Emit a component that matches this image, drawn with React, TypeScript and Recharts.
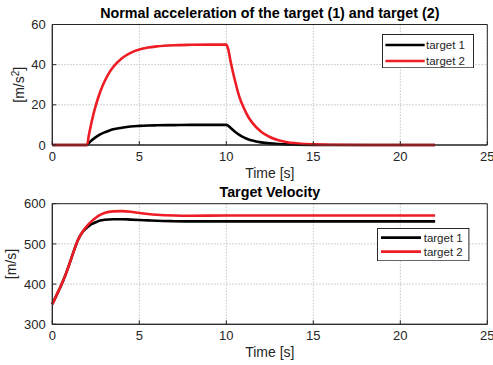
import React from 'react';
import { LineChart, Line, XAxis, YAxis, CartesianGrid, Legend, Label, ReferenceArea } from 'recharts';

const AXIS = '#262626';
const GRID = '#c4c4c4';
const BLACK = '#000000';
const RED = '#ee1c25';
const FONT = '"Liberation Sans", Arial, Helvetica, sans-serif';

// ---- data ----
const timeAcc = [0, 2, 2.1, 2.25, 2.5, 2.75, 3, 3.25, 3.5, 4, 4.5, 5, 5.5, 6, 7, 8, 9, 10, 10.1, 10.25, 10.5, 10.75, 11, 11.25, 11.5, 12, 12.5, 13, 13.5, 14, 15, 16, 18, 20, 22];
const accTarget1 = [0, 0, 1.0, 2.2, 3.9, 5.3, 6.3, 7.1, 7.8, 8.6, 9.2, 9.5, 9.7, 9.8, 9.9, 10, 10, 10, 9.7, 8.5, 6.6, 5.0, 3.8, 2.9, 2.2, 1.3, 0.8, 0.5, 0.3, 0.2, 0.05, 0, 0, 0, 0];
const accTarget2 = [0, 0, 4.8, 11.1, 19.7, 26.4, 31.6, 35.7, 38.8, 43.2, 45.9, 47.5, 48.5, 49.1, 49.7, 49.9, 50, 50, 48, 41.5, 32, 24, 18.5, 14.2, 11, 6.6, 4, 2.4, 1.4, 0.9, 0.3, 0.1, 0, 0, 0];

const timeVel = [0, 0.25, 0.5, 0.75, 1, 1.25, 1.5, 1.75, 2, 2.25, 2.5, 2.75, 3, 3.5, 4, 4.5, 5, 5.5, 6, 7, 8, 10, 15, 20, 22];
const velTarget1 = [350, 373, 396, 422, 452, 484, 512, 530, 541, 549, 554, 558, 560, 561.5, 561.5, 560.5, 559.5, 558.5, 557.5, 556.5, 556, 556, 556, 556, 556];
const velTarget2 = [350, 373, 396, 422, 452, 484, 512, 531, 545, 556, 565, 572, 577, 581, 581.5, 580, 577, 574.5, 572.5, 570.5, 570, 570.5, 570.5, 570.5, 570.5];

const xTicks = [0, 5, 10, 15, 20, 25];
const accTicks = [0, 20, 40, 60];
const velTicks = [300, 400, 500, 600];
const seriesNames = ['target 1', 'target 2'];
const titleAcc = 'Normal acceleration of the target (1) and target (2)';
const titleVel = 'Target Velocity';
const xLabel = 'Time [s]';

const accData = timeAcc.map((t, i) => ({ t, a: accTarget1[i], b: accTarget2[i] }));
const velData = timeVel.map((t, i) => ({ t, a: velTarget1[i], b: velTarget2[i] }));

type Box = { left: number; top: number; w: number; h: number; lx1: number; lx2: number; tx: number; rows: number[] };

const makeLegend = (box: Box) => (props: any) => {
  const payload = props.payload || [];
  return (
    <svg width={box.w} height={box.h} style={{ display: 'block' }}>
      <rect x={0.5} y={0.5} width={box.w - 1} height={box.h - 1} fill="#fff" stroke={AXIS} strokeWidth={1} />
      {payload.map((p: any, i: number) => (
        <g key={i}>
          <line x1={box.lx1} x2={box.lx2} y1={box.rows[i]} y2={box.rows[i]} stroke={p.color} strokeWidth={2.6} />
          <text x={box.tx} y={box.rows[i]} dy="0.36em" fontSize={11.5} fill={AXIS} fontFamily={FONT}>{p.value}</text>
        </g>
      ))}
    </svg>
  );
};

type PanelProps = {
  data: any[];
  height: number;
  top: number;
  plotTop: number;
  plotBottom: number;
  yDomain: [number, number];
  yTicks: number[];
  title: string;
  titleBaseline: number;
  xLabelOffset: number;
  yLabelX: number;
  superscript?: string;
  yLabelMain: string;
  legend: Box;
};

const PLOT_LEFT = 52.3;
const PLOT_RIGHT = 487.3;
const W = 493;
const YAXIS_W = 50;
const XAXIS_H = 40;

function Panel(p: PanelProps) {
  const margin = {
    top: p.plotTop - 1,
    left: PLOT_LEFT - YAXIS_W,
    right: W - PLOT_RIGHT - 1,
    bottom: p.height - p.plotBottom - XAXIS_H,
  };
  const cy = (p.plotTop + p.plotBottom) / 2;
  const yLabel = () => (
    <text
      x={p.yLabelX}
      y={cy}
      transform={`rotate(-90, ${p.yLabelX}, ${cy})`}
      textAnchor="middle"
      fontSize={14}
      fill={AXIS}
      fontFamily={FONT}
    >
      {p.superscript ? (
        <>
          {p.yLabelMain}
          <tspan dy={-5} fontSize={10}>{p.superscript}</tspan>
          <tspan dy={5}>]</tspan>
        </>
      ) : (
        p.yLabelMain + ']'
      )}
    </text>
  );
  return (
    <div style={{ position: 'absolute', left: 0, top: p.top }}>
      <LineChart width={W} height={p.height} data={p.data} margin={margin}>
        <CartesianGrid stroke={GRID} strokeDasharray="1.5 1.5" />
        <XAxis
          dataKey="t"
          type="number"
          domain={[0, 25]}
          ticks={xTicks}
          height={XAXIS_H}
          tickSize={-4}
          tickMargin={10.7}
          stroke={AXIS}
          axisLine={{ stroke: AXIS }}
          tickLine={{ stroke: AXIS }}
          tick={{ fill: AXIS, fontSize: 13, fontFamily: FONT }}
          interval={0}
        >
          <Label value={xLabel} position="insideBottom" offset={p.xLabelOffset} fontSize={14} fill={AXIS} fontFamily={FONT} />
        </XAxis>
        <XAxis
          xAxisId="top"
          orientation="top"
          type="number"
          domain={[0, 25]}
          ticks={xTicks}
          height={1}
          tickSize={-4}
          tick={false}
          axisLine={false}
          tickLine={{ stroke: AXIS }}
          interval={0}
        />
        <YAxis
          type="number"
          domain={p.yDomain}
          ticks={p.yTicks}
          width={YAXIS_W}
          tickSize={-4}
          tickMargin={10.6}
          axisLine={{ stroke: AXIS }}
          tickLine={{ stroke: AXIS }}
          tick={{ fill: AXIS, fontSize: 13, fontFamily: FONT }}
          interval={0}
          label={yLabel}
        />
        <YAxis
          yAxisId="right"
          orientation="right"
          type="number"
          domain={p.yDomain}
          ticks={p.yTicks}
          width={1}
          tickSize={-4}
          tick={false}
          axisLine={false}
          tickLine={{ stroke: AXIS }}
          interval={0}
        />
        <ReferenceArea
          x1={0}
          x2={25}
          y1={p.yDomain[0]}
          y2={p.yDomain[1]}
          fill="none"
          fillOpacity={0}
          stroke={AXIS}
          strokeWidth={1}
          ifOverflow="extendDomain"
        />
        <Legend
          layout="vertical"
          align="center"
          verticalAlign="middle"
          wrapperStyle={{ left: p.legend.left, top: p.legend.top, width: p.legend.w, height: p.legend.h }}
          content={makeLegend(p.legend)}
        />
        <Line dataKey="a" name={seriesNames[0]} stroke={BLACK} strokeWidth={2.6} dot={false} type="monotone" isAnimationActive={false} />
        <Line dataKey="b" name={seriesNames[1]} stroke={RED} strokeWidth={2.6} dot={false} type="monotone" isAnimationActive={false} />
      </LineChart>
      <svg width={W} height={30} style={{ position: 'absolute', left: 0, top: 0, pointerEvents: 'none' }}>
        <text
          x={(PLOT_LEFT + PLOT_RIGHT) / 2}
          y={p.titleBaseline}
          textAnchor="middle"
          fontSize={14.3}
          fontWeight="bold"
          fill="#000"
          fontFamily={FONT}
        >
          {p.title}
        </text>
      </svg>
    </div>
  );
}

export default function App() {
  return (
    <div style={{ position: 'absolute', left: 0, top: 0, width: 493, height: 365, background: '#fff', fontFamily: FONT }}>
      <Panel
        data={accData}
        height={190}
        top={0}
        plotTop={24.5}
        plotBottom={145}
        yDomain={[0, 60]}
        yTicks={accTicks}
        title={titleAcc}
        titleBaseline={18.3}
        xLabelOffset={6.7}
        yLabelX={23.8}
        yLabelMain="[m/s"
        superscript="2"
        legend={{ left: 382.3, top: 34, w: 92, h: 34.3, lx1: 3.4, lx2: 42.7, tx: 44, rows: [11, 27] }}
      />
      <Panel
        data={velData}
        height={185}
        top={180}
        plotTop={23.7}
        plotBottom={144.3}
        yDomain={[300, 600]}
        yTicks={velTicks}
        title={titleVel}
        titleBaseline={17.3}
        xLabelOffset={7}
        yLabelX={16.2}
        yLabelMain="[m/s"
        legend={{ left: 377.3, top: 47.7, w: 92.4, h: 33.3, lx1: 4, lx2: 44, tx: 46.7, rows: [9.6, 23.6] }}
      />
    </div>
  );
}
